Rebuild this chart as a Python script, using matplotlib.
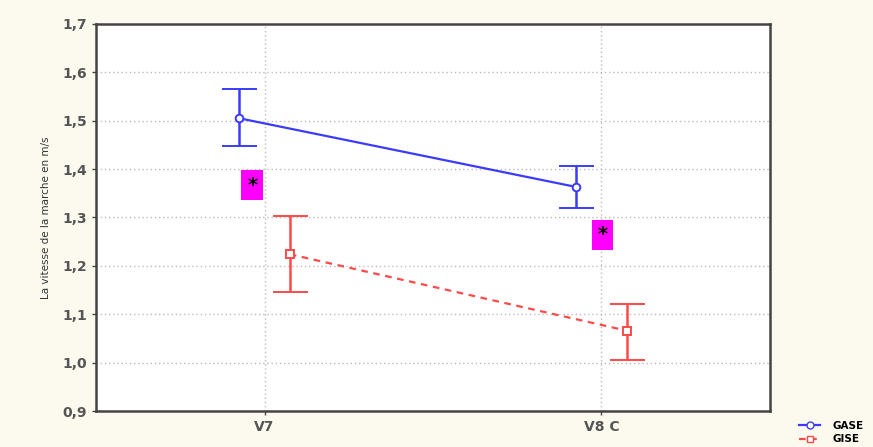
import matplotlib
matplotlib.use("Agg")
import matplotlib.pyplot as plt
from matplotlib.lines import Line2D

categories = ["V7", "V8 C"]
gase_mean = [1.505, 1.363]
gase_upper = [1.565, 1.407]
gase_lower = [1.448, 1.320]
gise_mean = [1.224, 1.066]
gise_upper = [1.302, 1.122]
gise_lower = [1.146, 1.006]
yticks = [0.9, 1.0, 1.1, 1.2, 1.3, 1.4, 1.5, 1.6, 1.7]
ytick_labels = ["0,9", "1,0", "1,1", "1,2", "1,3", "1,4", "1,5", "1,6", "1,7"]
star_x = [-0.036, 1.003]
star_y = [1.367, 1.264]

bg = "#fcf9ee"
fig = plt.figure(figsize=(8.73, 4.47), dpi=100, facecolor=bg)
ax = fig.add_axes([0.110, 0.0805, 0.772, 0.866])
ax.set_facecolor("white")

x = list(range(len(categories)))
off = 0.075
xb = [v - off for v in x]
xr = [v + off for v in x]

blue = "#3b3bff"
red = "#ff4a4a"

ax.errorbar(xb, gase_mean,
            yerr=[[m - l for m, l in zip(gase_mean, gase_lower)],
                  [u - m for m, u in zip(gase_mean, gase_upper)]],
            color=blue, lw=1.6, elinewidth=1.8, capsize=12.6, capthick=1.8,
            marker="o", ms=5.5, mfc="white", mec=blue, mew=1.4, zorder=3)
ax.errorbar(xr, gise_mean,
            yerr=[[m - l for m, l in zip(gise_mean, gise_lower)],
                  [u - m for m, u in zip(gise_mean, gise_upper)]],
            color=red, lw=1.6, ls=(0, (3, 2.5)), elinewidth=1.8, capsize=12.6, capthick=1.8,
            marker="s", ms=5.5, mfc="white", mec=red, mew=1.4, zorder=3)

for sx, sy in zip(star_x, star_y):
    ax.text(sx, sy, "*", ha="center", va="center", fontsize=14, color="black",
            fontweight="bold",
            bbox=dict(boxstyle="square,pad=0.3", fc="#ff00ff", ec="none"), zorder=5)

ax.set_xlim(-0.5, 1.5)
ax.set_ylim(0.9, 1.7)
ax.set_xticks(x)
ax.set_xticklabels(categories)
ax.set_yticks(yticks)
ax.set_yticklabels(ytick_labels)
ax.grid(True, ls=(0, (1, 2)), color="#bbbbbb", lw=1.0)
ax.set_axisbelow(True)
for s in ax.spines.values():
    s.set_color("#444444")
    s.set_linewidth(1.8)
ax.tick_params(axis="both", colors="#444444", labelsize=10, length=3, width=1,
               labelcolor="#555555")
for lab in ax.get_xticklabels() + ax.get_yticklabels():
    lab.set_fontweight("bold")
ax.set_ylabel("La vitesse de la marche en m/s", fontsize=7.5, color="#333333", labelpad=8)

handles = [
    Line2D([0], [0], color=blue, lw=1.6, marker="o", ms=5, mfc="white", mec=blue),
    Line2D([0], [0], color=red, lw=1.6, ls=(0, (3, 2)), marker="s", ms=5, mfc="white", mec=red),
]
fig.legend(handles, ["GASE", "GISE"], loc="lower right", bbox_to_anchor=(1.0, -0.015),
           frameon=False, handlelength=2.0, labelspacing=0.35, handletextpad=1.2,
           prop={"weight": "bold", "size": 7.5})

fig.savefig("out.png", dpi=100, facecolor=bg)
